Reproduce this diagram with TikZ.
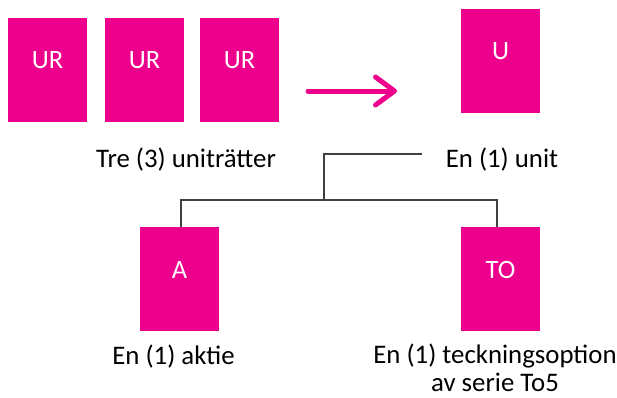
\documentclass[tikz,border=0pt]{standalone}
\usepackage{fontspec}
\setmainfont{Carlito}
\usetikzlibrary{arrows.meta}
\definecolor{pink}{HTML}{EC008C}
\definecolor{conngray}{HTML}{404040}
\begin{document}
\begin{tikzpicture}[x=1pt,y=-1pt,
  pbox/.style={fill=pink,draw=none,minimum width=79pt,minimum height=104pt,inner sep=0pt},
  boxtxt/.style={text=white,font=\fontsize{26.5}{30}\selectfont,inner sep=0pt},
  lbl/.style={font=\fontsize{26.8}{28}\selectfont,inner sep=0pt,anchor=base,align=center},
  conn/.style={draw=conngray,line width=1.2pt},
  bigarrow/.style={draw=pink,line width=5pt,line cap=round,-{Straight Barb[length=19pt,width=28pt,round]}}]
\useasboundingbox (0,0) rectangle (617,397);
% boxes
\node[pbox] (ur1) at (47.5,70) {};
\node[pbox] (ur2) at (144.5,70) {};
\node[pbox] (ur3) at (239.5,70) {};
\node[pbox] (u) at (500.5,61) {};
\node[pbox] (a) at (179.5,279) {};
\node[pbox] (to) at (500.5,279) {};
% box texts
\node[boxtxt] (ur1t) at ([yshift=-42]ur1.north) {UR};
\node[boxtxt] (ur2t) at ([yshift=-42]ur2.north) {UR};
\node[boxtxt] (ur3t) at ([yshift=-42]ur3.north) {UR};
\node[boxtxt] (ut) at ([yshift=-42]u.north) {U};
\node[boxtxt] (at) at ([yshift=-43]a.north) {A};
\node[boxtxt] (tot) at ([yshift=-43]to.north) {TO};
% labels
\node[lbl] (urlbl) at (186,167) {Tre (3) uniträtter};
\node[lbl] (ulbl) at (502,167) {En (1) unit};
\node[lbl] (albl) at (173.5,364) {En (1) aktie};
\node[lbl] (tolbl) at (495,391) {En (1) teckningsoption\\av serie To5};
% arrow
\coordinate (arrS) at (308,91);
\coordinate (arrE) at (397,91);
\draw[bigarrow] (arrS) -- (arrE);
% tree connector
\coordinate (j1) at (422,154);
\coordinate (j2) at (324,200);
\coordinate (aTop) at ([xshift=1.5pt]a.north);
\coordinate (toTop) at ([xshift=-3.5pt]to.north);
\draw[conn] (j1) -| (j2);
\draw[conn] (aTop) |- (j2) -| (toTop);
\end{tikzpicture}
\end{document}
